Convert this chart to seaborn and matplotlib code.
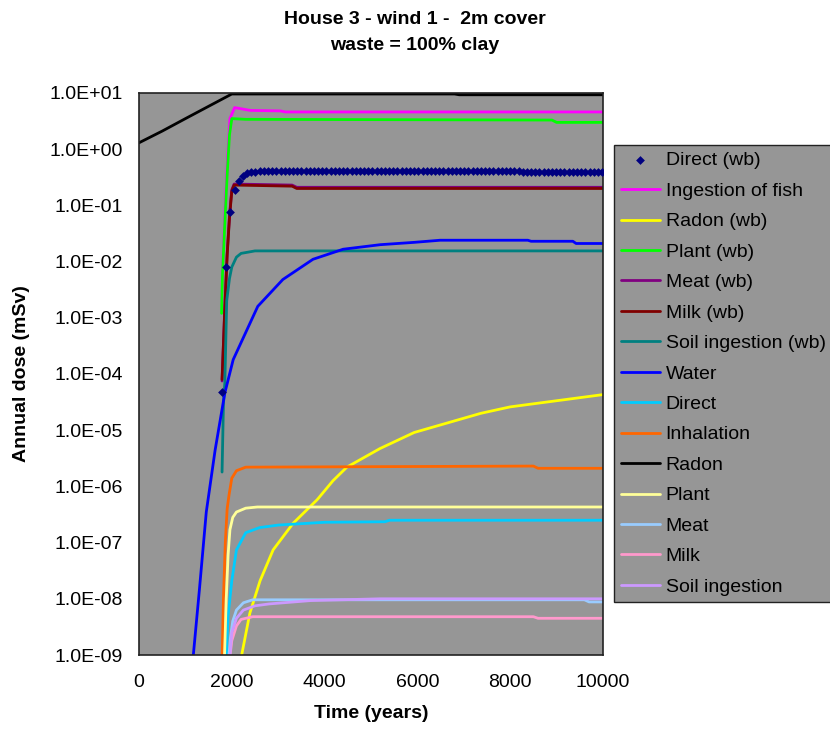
import numpy as np
import pandas as pd
import matplotlib
matplotlib.use("Agg")
import matplotlib.pyplot as plt
import seaborn as sns

sns.set_style("white")
plt.rcParams['font.family'] = ['Liberation Sans', 'DejaVu Sans']
plt.rcParams['text.color'] = 'black'
plt.rcParams['axes.labelcolor'] = 'black'
plt.rcParams['xtick.color'] = 'black'
plt.rcParams['ytick.color'] = 'black'

# ---- data (time in years, dose in mSv) ----
t_direct_wb = np.arange(1790, 10000, 90)
v_direct_wb = ([4.8e-5, 7.9e-3, 0.075, 0.19, 0.27, 0.33, 0.37, 0.39, 0.40]
               + [0.41] * 63 + [0.39] * 20)

t_fish = [1790, 1810, 1860, 1910, 1960, 2060, 2400, 3050, 3150, 10000]
v_fish = [2e-3, 1e-2, 0.1, 0.7, 3.5, 5.5, 4.9, 4.8, 4.6, 4.6]

t_radon_wb = [2190, 2390, 2610, 2890, 3320, 3840, 4180, 4480, 5190, 5930, 7370, 8000, 10000]
v_radon_wb = [8e-10, 5.6e-9, 2.1e-8, 7.4e-8, 2.2e-7, 5.8e-7, 1.26e-6, 2.2e-6, 4.7e-6,
              9.1e-6, 2.0e-5, 2.6e-5, 4.3e-5]

t_plant_wb = [1780, 1800, 1850, 1900, 1950, 2000, 2300, 8900, 9000, 10000]
v_plant_wb = [1.2e-3, 6e-3, 0.05, 0.35, 1.8, 3.5, 3.4, 3.3, 3.0, 3.0]

t_meat_wb = [1790, 1850, 1900, 1950, 2000, 2050, 3300, 3400, 10000]
v_meat_wb = [7.5e-5, 1.6e-3, 1.4e-2, 0.065, 0.19, 0.24, 0.23, 0.21, 0.21]

t_milk_wb = [1790, 1850, 1900, 1950, 2000, 2050, 3300, 3400, 10000]
v_milk_wb = [8e-5, 1.5e-3, 1.3e-2, 0.06, 0.18, 0.23, 0.22, 0.20, 0.20]

t_soil_wb = [1790, 1820, 1850, 1890, 1950, 2000, 2100, 2200, 2500, 10000]
v_soil_wb = [1.8e-6, 3e-5, 7e-5, 2e-3, 5e-3, 8e-3, 1.2e-2, 1.4e-2, 1.55e-2, 1.55e-2]

t_water = [1160, 1300, 1450, 1640, 1850, 2030, 2330, 2560, 3100, 3750, 4400, 5200,
           5930, 6490, 8380, 8450, 9350, 9420, 10000]
v_water = [8e-10, 1.4e-8, 3.5e-7, 4.4e-6, 4.6e-5, 1.8e-4, 6.2e-4, 1.6e-3, 4.8e-3,
           1.1e-2, 1.66e-2, 2.0e-2, 2.2e-2, 2.4e-2, 2.4e-2, 2.3e-2, 2.3e-2, 2.1e-2, 2.1e-2]

t_direct = [1880, 1920, 2000, 2100, 2300, 2600, 3000, 4000, 5300, 5400, 10000]
v_direct = [8e-10, 5e-9, 2.1e-8, 7.4e-8, 1.5e-7, 1.85e-7, 2.05e-7, 2.3e-7, 2.35e-7, 2.5e-7, 2.5e-7]

t_inhal = [1790, 1820, 1860, 1900, 1940, 2000, 2100, 2300, 8500, 8600, 10000]
v_inhal = [8e-10, 1e-8, 1e-7, 4e-7, 7e-7, 1.4e-6, 1.9e-6, 2.2e-6, 2.3e-6, 2.1e-6, 2.1e-6]

t_radon = [0, 500, 1000, 1500, 2000, 6800, 6900, 10000]
v_radon = [1.3, 2.1, 3.5, 5.8, 9.6, 9.6, 9.3, 9.3]

t_plant = [1840, 1880, 1920, 1960, 2020, 2100, 2300, 2550, 10000]
v_plant = [8e-10, 1e-8, 6e-8, 1.7e-7, 2.8e-7, 3.5e-7, 4.1e-7, 4.3e-7, 4.3e-7]

t_meat = [1930, 1970, 2020, 2100, 2250, 2450, 9600, 9700, 10000]
v_meat = [8e-10, 2e-9, 4e-9, 6.3e-9, 8.5e-9, 9.6e-9, 9.6e-9, 8.8e-9, 8.8e-9]

t_milk = [1950, 2000, 2100, 2200, 2450, 8500, 8600, 10000]
v_milk = [8e-10, 1.8e-9, 3.3e-9, 4.3e-9, 4.8e-9, 4.8e-9, 4.5e-9, 4.5e-9]

t_soil = [1950, 2000, 2100, 2250, 2500, 2800, 3700, 5200, 10000]
v_soil = [8e-10, 2.5e-9, 4.5e-9, 6.3e-9, 7.5e-9, 8.1e-9, 9.3e-9, 1.0e-8, 1.0e-8]

lines = [
    ("Ingestion of fish", t_fish, v_fish, "#FF00FF"),
    ("Radon (wb)", t_radon_wb, v_radon_wb, "#FFFF00"),
    ("Plant (wb)", t_plant_wb, v_plant_wb, "#00FF00"),
    ("Meat (wb)", t_meat_wb, v_meat_wb, "#800080"),
    ("Milk (wb)", t_milk_wb, v_milk_wb, "#800000"),
    ("Soil ingestion (wb)", t_soil_wb, v_soil_wb, "#008080"),
    ("Water", t_water, v_water, "#0000FF"),
    ("Direct", t_direct, v_direct, "#00CCFF"),
    ("Inhalation", t_inhal, v_inhal, "#FF6600"),
    ("Radon", t_radon, v_radon, "#000000"),
    ("Plant", t_plant, v_plant, "#FFFF99"),
    ("Meat", t_meat, v_meat, "#99CCFF"),
    ("Milk", t_milk, v_milk, "#FF99CC"),
    ("Soil ingestion", t_soil, v_soil, "#CC99FF"),
]

y_ticks = [1e-9, 1e-8, 1e-7, 1e-6, 1e-5, 1e-4, 1e-3, 1e-2, 1e-1, 1e0, 1e1]
y_labels = ["1.0E-09", "1.0E-08", "1.0E-07", "1.0E-06", "1.0E-05", "1.0E-04",
            "1.0E-03", "1.0E-02", "1.0E-01", "1.0E+00", "1.0E+01"]
x_ticks = [0, 2000, 4000, 6000, 8000, 10000]

fig = plt.figure(figsize=(8.3, 7.31), dpi=100)
ax = fig.add_axes([139 / 830, 1 - 655 / 731, (603 - 139) / 830, (655 - 93) / 731])
ax.set_facecolor("#969696")

sns.scatterplot(x=t_direct_wb, y=v_direct_wb, ax=ax, marker="D", s=20,
                color="#000080", edgecolor="#000080", linewidth=0,
                label="Direct (wb)", zorder=5)
for name, t, v, c in lines:
    df = pd.DataFrame({"t": t, "v": v})
    sns.lineplot(data=df, x="t", y="v", ax=ax, color=c, lw=2.0,
                 estimator=None, label=name)

ax.set_yscale("log")
ax.set_ylim(1e-9, 1e1)
ax.set_xlim(0, 10000)
ax.set_yticks(y_ticks)
ax.set_yticklabels(y_labels)
ax.minorticks_off()
ax.set_xticks(x_ticks)
ax.tick_params(axis="y", direction="inout", length=7, width=1.2, labelsize=14, pad=8)
ax.tick_params(axis="x", direction="in", length=6, width=1.2, labelsize=14, pad=14)
for s in ax.spines.values():
    s.set_color("#222222")
    s.set_linewidth(1.2)

ax.set_xlabel("Time (years)", fontsize=14, fontweight="bold", labelpad=10)
ax.set_ylabel("Annual dose (mSv)", fontsize=14, fontweight="bold", labelpad=14)
fig.text(0.5, 1 - 20 / 731, "House 3 - wind 1 -  2m cover", ha="center", va="center",
         fontsize=14, fontweight="bold")
fig.text(0.5, 1 - 45 / 731, "waste = 100% clay", ha="center", va="center",
         fontsize=14, fontweight="bold")

handles, labels = ax.get_legend_handles_labels()
ax.get_legend().remove()
leg = fig.legend(handles, labels, loc="upper left",
                 bbox_to_anchor=(614 / 830, 1 - 145 / 731), fontsize=14,
                 frameon=True, fancybox=False, framealpha=1, facecolor="#969696",
                 edgecolor="#222222", handlelength=2.0, handletextpad=0.3,
                 labelspacing=0.66, borderpad=0.35, borderaxespad=0)
leg.get_frame().set_linewidth(1.0)

fig.savefig("out.png", dpi=100)
